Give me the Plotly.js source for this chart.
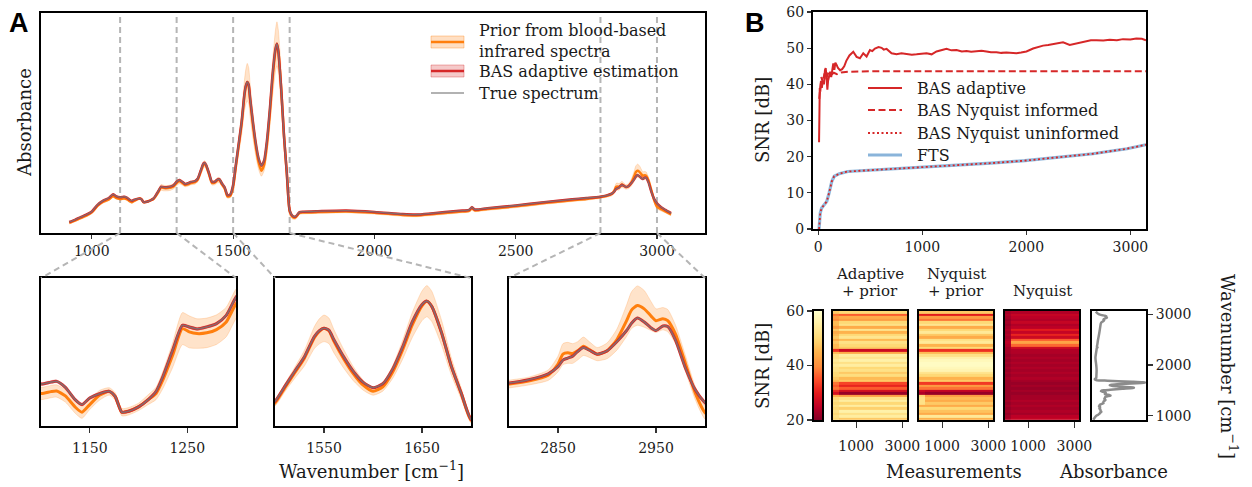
<!DOCTYPE html>
<html><head><meta charset="utf-8">
<script src="https://cdn.plot.ly/plotly-3.0.1.min.js"></script>
<style>html,body{margin:0;padding:0;background:#fff}</style>
</head><body><div id="chart" style="width:1252px;height:487px"></div>
<script>
// ---------------- DATA ----------------
// Panel A: spectrum (wavenumber, cm^-1)
const wn = [920,940,960,980,1000,1020,1040,1060,1075,1085,
1100,1110,1116,1125,1135,1142,1150,1160,1170,1176,
1183,1190,1200,1210,1218,1225,1235,1245,1252,1260,
1270,1280,1290,1300,1310,1320,1330,1340,1350,1365,
1375,1385,1395,1400,1405,1415,1425,1435,1445,1452,
1460,1470,1480,1490,1500,1510,1520,1530,1540,1545,
1550,1555,1560,1570,1580,1590,1600,1610,1620,1630,
1640,1650,1655,1660,1670,1680,1690,1700,1710,1720,
1735,1750,1800,1900,2000,2100,2150,2200,2300,2335,
2345,2355,2400,2500,2600,2700,2750,2800,2820,2840,
2850,2855,2860,2865,2870,2876,2882,2890,2900,2910,
2920,2925,2931,2938,2945,2950,2957,2962,2970,2980,
2990,3000,3015,3030,3050];
const trueAbs = [0.050,0.060,0.072,0.083,0.098,0.128,0.147,0.159,0.176,0.168,
0.1626,0.1642,0.1648,0.160,0.150,0.146,0.1514,0.1548,0.1567,0.1527,
0.1398,0.1406,0.1441,0.150,0.1567,0.1688,0.1902,0.2103,0.209,0.2074,
0.209,0.2117,0.2184,0.2331,0.241,0.233,0.223,0.226,0.232,0.236,
0.248,0.283,0.316,0.319,0.308,0.271,0.233,0.233,0.244,0.244,
0.226,0.208,0.172,0.176,0.219,0.3146,0.4097,0.5048,0.6317,0.6697,
0.6866,0.674,0.6148,0.5048,0.4097,0.3399,0.306,0.3315,0.4245,0.564,
0.7268,0.8388,0.860,0.8262,0.657,0.4414,0.2723,0.1032,0.078,0.074,
0.095,0.097,0.099,0.102,0.096,0.086,0.084,0.089,0.101,0.105,
0.117,0.107,0.113,0.125,0.140,0.153,0.159,0.165,0.170,0.179,
0.190,0.200,0.203,0.206,0.213,0.219,0.215,0.209,0.214,0.228,
0.245,0.256,0.264,0.258,0.249,0.245,0.252,0.251,0.230,0.188,
0.155,0.135,0.117,0.105,0.090];
const priorMean = [0.046,0.056,0.068,0.079,0.094,0.123,0.142,0.153,0.168,0.160,
0.155,0.1565,0.157,0.153,0.144,0.1398,0.146,0.1535,0.1567,0.1527,
0.1398,0.1406,0.1441,0.150,0.155,0.166,0.186,0.2076,0.205,0.2036,
0.2042,0.2068,0.213,0.2277,0.235,0.228,0.218,0.221,0.227,0.231,
0.243,0.277,0.310,0.314,0.303,0.266,0.228,0.229,0.240,0.240,
0.222,0.203,0.166,0.169,0.209,0.305,0.400,0.495,0.625,0.665,
0.686,0.670,0.605,0.492,0.395,0.322,0.283,0.312,0.405,0.545,
0.706,0.830,0.860,0.826,0.657,0.441,0.270,0.100,0.074,0.070,
0.091,0.093,0.095,0.098,0.092,0.082,0.080,0.085,0.097,0.101,
0.113,0.103,0.109,0.121,0.136,0.149,0.155,0.1635,0.168,0.177,
0.194,0.209,0.211,0.210,0.214,0.221,0.216,0.209,0.214,0.231,
0.260,0.276,0.283,0.278,0.267,0.260,0.263,0.260,0.239,0.195,
0.150,0.120,0.108,0.098,0.084];
const priorStd = [0.005,0.005,0.005,0.006,0.006,0.006,0.006,0.006,0.006,0.005,
0.005,0.005,0.005,0.005,0.005,0.005,0.004,0.004,0.003,0.003,
0.003,0.003,0.003,0.004,0.005,0.007,0.010,0.013,0.013,0.012,
0.012,0.012,0.012,0.012,0.011,0.010,0.008,0.008,0.008,0.009,
0.010,0.012,0.014,0.014,0.013,0.012,0.010,0.010,0.012,0.012,
0.010,0.009,0.008,0.008,0.020,0.025,0.035,0.050,0.070,0.080,
0.085,0.082,0.075,0.060,0.045,0.032,0.025,0.028,0.040,0.060,
0.080,0.095,0.100,0.097,0.080,0.055,0.035,0.020,0.010,0.008,
0.007,0.006,0.006,0.006,0.006,0.006,0.006,0.006,0.006,0.006,
0.010,0.006,0.006,0.006,0.006,0.006,0.006,0.006,0.006,0.008,
0.012,0.016,0.016,0.015,0.014,0.014,0.012,0.010,0.012,0.016,
0.024,0.028,0.030,0.028,0.022,0.018,0.017,0.017,0.014,0.012,
0.010,0.010,0.008,0.007,0.006];
const basEstimate = trueAbs;      // BAS adaptive estimate coincides with the true spectrum
const basBand = 0.0012;           // half-width of the (very narrow) BAS credible band
const zoomRanges = [[1100,1300],[1500,1700],[2800,3000]];
const mainTicks = [1000,1500,2000,2500,3000];
const zoomTicks = [[1150,1250],[1550,1650],[2850,2950]];

// Panel B: SNR vs number of measurements
const measAdaptive = [8,12,15,20,28,35,45,55,65,72,80,88,95,105,115,125,137,145,155,165,178,190,210,230,250,270,300,337,369,401,433,465,497,520,545,580,609,630,657,705,753,800,849,900,945,1000,1041,1090,1137,1190,1233,1280,1329,1380,1425,1470,1521,1570,1617,1660,1713,1760,1809,1860,1905,1950,2001,2065,2110,2161,2210,2257,2300,2353,2417,2481,2530,2577,2620,2673,2740,2801,2870,2929,3000,3057,3110,3150];
const snrAdaptive  = [24,30,39,38,41,39,41,40,44,44.5,42,38.5,41,42.7,43.5,42,45.5,45.8,44,46,45.3,44.5,43.9,44.2,45,46.5,48,49,47.6,47.2,48.6,47.7,49.5,49.2,49.9,50.3,50.1,49.6,49.8,48.6,48.3,48.6,48.4,48.2,48.3,48.5,48.6,48.3,49.1,49.5,49.8,49.4,49.5,49.1,49.2,49.0,49.1,49.3,49.1,48.9,48.9,48.7,48.8,48.6,48.6,48.8,49.1,49.9,50.3,50.7,50.9,51.1,51.3,51.6,50.9,51.3,51.8,52.0,52.2,52.2,52.1,52.3,52.2,52.5,52.4,52.7,52.6,52.2];
const measNyqInformed = [10,20,30,45,60,75,95,120,150,180,220,300,500,1000,2000,3150];
const snrNyqInformed  = [36,40,42,40.5,43,41.5,43,42.5,43.2,42.8,43.3,43.5,43.6,43.6,43.6,43.6];
const measFTS = [8,12,20,33,55,82,105,131,154,203,285,415,677,1004,1331,1658,1986,2313,2640,2803,2967,3150];
const snrFTS  = [0,3.5,4.5,5.8,6.7,7.6,10,13.2,14.6,15.3,15.9,16.1,16.6,17.1,17.6,18.2,18.9,19.8,20.8,21.5,22.2,23.3];
const snrNyqUninformed = snrFTS;   // overlaps the FTS curve exactly
const panelBXTicks = [0,1000,2000,3000];

// Panel B heatmaps: SNR [dB] per wavenumber row (row centres, ascending) and measurement bins
const wnRows = [940,990,1040,1090,1140,1190,1240,1290,1340,1390,1440,1490,1540,1590,1640,1690,1740,1790,1840,1890,1940,1990,2040,2090,2140,2190,2240,2290,2340,2390,2440,2490,2540,2590,2640,2690,2740,2790,2840,2890,2940,2990,3040];
const measBins = [0,250,3200];
const adaptiveEarly = [50,52,50,52,50,52,50,52,50,44,28,32,38,36,38,46,48,50,50,52,52,54,52,54,52,52,46,32,46,46,48,44,48,46,44,48,42,46,46,40,42,38,48];
const adaptiveSNR   = [48,55,52,56,49,55,50,55,52,42,22,28,36,31,34,48,46,51,48,52,50,55,52,56,53,55,44,27,48,50,52,46,53,50,45,53,44,52,50,42,44,36,50];
const nyqPriorEarly = [45,54,44,47,50,44,52,52,52,50,24,27,38,42,33,48,45,50,53,57,58,59,59,58,56,52,46,32,50,45,54,52,44,48,54,50,44,53,50,38,42,30,48];
const nyqPriorSNR   = [45,54,44,47,50,44,48,44,46,42,22,26,38,42,33,48,45,50,53,57,58,59,59,58,56,52,46,32,50,45,54,52,44,48,54,50,44,53,50,38,42,30,48];
const nyqEarly      = [24,23,22,23,22,23,22,23,22,22,22,22,22,22,22,22,23,22,23,22,23,22,23,22,23,22,23,23,23,24,25,24,23,24,23,24,23,22,23,22,23,24,23];
const nyqSNR        = [26,25,23,24,23,24,23,24,23,23,22,23,22,23,22,23,24,23,24,23,24,23,24,23,24,23,24,24,27,37,43,36,27,31,26,30,25,24,26,24,25,26,24];
const cbLevels = [20,22,24,26,28,30,32,34,36,38,40,42,44,46,48,50,52,54,56,58,60];
const hmXTicks = [1000,3000];
const wnTicks = [1000,2000,3000];

// ---------------- LAYOUT HELPERS ----------------
const W = 1252, H = 487;
const hx = p => p / W;
const vy = p => 1 - p / H;
const hd = (a, b) => [a / W, b / W];
const vd = (top, bot) => [1 - bot / H, 1 - top / H];
const FONT = 'DejaVu Serif';
const TXT = '#1a1a1a';
const ORANGE = '#ff7f0e', RED = '#d62728', GRAY = 'rgba(120,120,120,0.85)';
const YlOrRd = [[0,'#800026'],[0.125,'#bd0026'],[0.25,'#e31a1c'],[0.375,'#fc4e2a'],[0.5,'#fd8d3c'],[0.625,'#feb24c'],[0.75,'#fed976'],[0.875,'#ffeda0'],[1,'#ffffcc']];

const box = {showline:true, mirror:true, linecolor:'#000', linewidth:2, showgrid:false, zeroline:false,
  ticks:'outside', ticklen:4, tickwidth:1.2, tickcolor:'#333', tickfont:{family:FONT, size:14, color:TXT}};

// geometry (pixels)
const mainBox = {l:41, r:705, t:13, b:233};
const mainRange = [820, 3170];
const subBoxes = [{l:41,r:236},{l:275,r:471},{l:509,r:705}];
const subTop = 278, subBot = 426;
const subYRanges = [[0.1286,0.2487],[0.061,1.008],[0.0996,0.325]];

const traces = [];
function spectrumTraces(xa, ya, wo, wr, wg) {
  const sh = {shape:'spline', smoothing:0.6};
  const lowP = priorMean.map((v,i)=>v-priorStd[i]);
  const upP  = priorMean.map((v,i)=>v+priorStd[i]);
  const lowB = basEstimate.map(v=>v-basBand);
  const upB  = basEstimate.map(v=>v+basBand);
  traces.push({x:wn, y:lowP, xaxis:xa, yaxis:ya, mode:'lines', line:Object.assign({color:'rgba(255,127,14,0.25)', width:0.8}, sh), hoverinfo:'skip'});
  traces.push({x:wn, y:upP, xaxis:xa, yaxis:ya, mode:'lines', fill:'tonexty', fillcolor:'rgba(255,127,14,0.22)', line:Object.assign({color:'rgba(255,127,14,0.25)', width:0.8}, sh), hoverinfo:'skip'});
  traces.push({x:wn, y:lowB, xaxis:xa, yaxis:ya, mode:'lines', line:Object.assign({color:'rgba(214,39,40,0.25)', width:0.5}, sh), hoverinfo:'skip'});
  traces.push({x:wn, y:upB, xaxis:xa, yaxis:ya, mode:'lines', fill:'tonexty', fillcolor:'rgba(214,39,40,0.25)', line:Object.assign({color:'rgba(214,39,40,0.25)', width:0.5}, sh), hoverinfo:'skip'});
  traces.push({x:wn, y:priorMean, xaxis:xa, yaxis:ya, mode:'lines', name:'Prior from blood-based infrared spectra', line:Object.assign({color:ORANGE, width:wo}, sh)});
  traces.push({x:wn, y:basEstimate, xaxis:xa, yaxis:ya, mode:'lines', name:'BAS adaptive estimation', line:Object.assign({color:RED, width:wr}, sh)});
  traces.push({x:wn, y:trueAbs, xaxis:xa, yaxis:ya, mode:'lines', name:'True spectrum', line:Object.assign({color:GRAY, width:wg}, sh)});
}
spectrumTraces('x','y',2.5,2.5,1.3);
spectrumTraces('x2','y2',3,3,1.6);
spectrumTraces('x3','y3',3,3,1.6);
spectrumTraces('x4','y4',3,3,1.6);

// Panel B top
traces.push({x:measFTS, y:snrFTS, xaxis:'x5', yaxis:'y5', mode:'lines', name:'FTS', line:{color:'rgba(125,172,214,0.85)', width:3.2}});
traces.push({x:measFTS, y:snrNyqUninformed, xaxis:'x5', yaxis:'y5', mode:'lines', name:'BAS Nyquist uninformed', line:{color:RED, width:1.8, dash:'2px,2.5px'}});
traces.push({x:measNyqInformed, y:snrNyqInformed, xaxis:'x5', yaxis:'y5', mode:'lines', name:'BAS Nyquist informed', line:{color:RED, width:2, dash:'7px,3.5px'}});
traces.push({x:measAdaptive, y:snrAdaptive, xaxis:'x5', yaxis:'y5', mode:'lines', name:'BAS adaptive', line:{color:RED, width:2}});

// colour bar as its own heat map
traces.push({type:'heatmap', x:[0,1], y:cbLevels, z:cbLevels.map(v=>[v,v]), xaxis:'x6', yaxis:'y6', colorscale:YlOrRd, zmin:20, zmax:60, showscale:false, zsmooth:'best', hoverinfo:'skip'});
// heat maps
const hm = [[adaptiveEarly, adaptiveSNR,'x7','y7'],[nyqPriorEarly, nyqPriorSNR,'x8','y8'],[nyqEarly, nyqSNR,'x9','y9']];
hm.forEach(([e, m, xa, ya]) => {
  traces.push({type:'heatmap', x:measBins, y:wnRows, z:wnRows.map((_,i)=>[e[i], m[i]]), xaxis:xa, yaxis:ya,
    colorscale:YlOrRd, zmin:20, zmax:60, showscale:false, zsmooth:false});
});
// absorbance side panel
traces.push({x:trueAbs, y:wn, xaxis:'x10', yaxis:'y10', mode:'lines', line:{color:'rgba(128,128,128,0.9)', width:2.5, shape:'spline', smoothing:0.6}});

// ---------------- AXES ----------------
const layout = {width:W, height:H, margin:{l:0,r:0,t:0,b:0}, paper_bgcolor:'#fff', plot_bgcolor:'#fff',
  showlegend:false, font:{family:FONT, size:14, color:TXT}, shapes:[], annotations:[]};

layout.xaxis = Object.assign({}, box, {domain:hd(mainBox.l, mainBox.r), range:mainRange, tickvals:mainTicks, anchor:'y'});
layout.yaxis = Object.assign({}, box, {domain:vd(mainBox.t, mainBox.b), range:[0,1], ticks:'', showticklabels:false, anchor:'x'});
subBoxes.forEach((b,i) => {
  const n = i + 2;
  layout['xaxis'+n] = Object.assign({}, box, {domain:hd(b.l,b.r), range:zoomRanges[i], tickvals:zoomTicks[i], ticklen:5, ticklabelstandoff:3, anchor:'y'+n});
  layout['yaxis'+n] = Object.assign({}, box, {domain:vd(subTop, subBot), range:subYRanges[i], ticks:'', showticklabels:false, anchor:'x'+n});
});
layout.xaxis5 = Object.assign({}, box, {domain:hd(813,1146), range:[-50,3150], tickvals:panelBXTicks, anchor:'y5'});
layout.yaxis5 = Object.assign({}, box, {domain:vd(12,229), range:[0,60], dtick:10, anchor:'x5'});
const hmTop = 311, hmBot = 420, wnRange = [915, 3062];
layout.xaxis6 = Object.assign({}, box, {domain:hd(814,822), range:[0,1], ticks:'', showticklabels:false, anchor:'y6'});
layout.yaxis6 = Object.assign({}, box, {domain:vd(hmTop,hmBot), range:[20,60], tickvals:[20,40,60], ticklen:5, anchor:'x6'});
[[7,833,907],[8,919,993],[9,1005,1079]].forEach(([n,l,r]) => {
  layout['xaxis'+n] = Object.assign({}, box, {domain:hd(l,r), range:[0,3200], tickvals:hmXTicks, ticklen:6, ticklabelstandoff:6, anchor:'y'+n});
  layout['yaxis'+n] = Object.assign({}, box, {domain:vd(hmTop,hmBot), range:wnRange, ticks:'', showticklabels:false, anchor:'x'+n});
});
layout.xaxis10 = Object.assign({}, box, {domain:hd(1092,1146), range:[0.03,0.875], ticks:'', showticklabels:false, anchor:'y10'});
layout.yaxis10 = Object.assign({}, box, {domain:vd(hmTop,hmBot), range:wnRange, tickvals:wnTicks, ticklen:5, side:'right', anchor:'x10'});

// ---------------- SHAPES ----------------
const dashGray = {color:'#b5b5b5', width:2, dash:'6px,4px'};
const mainPx = w => mainBox.l + (w - mainRange[0]) / (mainRange[1] - mainRange[0]) * (mainBox.r - mainBox.l);
zoomRanges.forEach((rg, i) => {
  rg.forEach((w, j) => {
    layout.shapes.push({type:'line', xref:'x', yref:'y', x0:w, x1:w, y0:0, y1:1, line:dashGray, layer:'below'});
    const cornerX = j === 0 ? subBoxes[i].l : subBoxes[i].r;
    layout.shapes.push({type:'line', xref:'paper', yref:'paper', x0:hx(mainPx(w)), y0:vy(mainBox.b), x1:hx(cornerX), y1:vy(subTop), line:dashGray});
  });
});

// Panel A legend (patch + line, drawn by hand)
function legRect(x0,x1,yc,h,fill,edge){ layout.shapes.push({type:'rect', xref:'paper', yref:'paper', x0:hx(x0), x1:hx(x1), y0:vy(yc+h/2), y1:vy(yc-h/2), fillcolor:fill, line:{color:edge, width:1}}); }
function legLine(x0,x1,yc,line){ layout.shapes.push({type:'line', xref:'paper', yref:'paper', x0:hx(x0), x1:hx(x1), y0:vy(yc), y1:vy(yc), line:line}); }
function txt(text, x, y, opts){ layout.annotations.push(Object.assign({text:text, xref:'paper', yref:'paper', x:hx(x), y:vy(y), showarrow:false, xanchor:'left', yanchor:'middle', align:'left', font:{family:FONT, size:16, color:TXT}}, opts||{})); }

legRect(431,464,42,12,'rgba(255,127,14,0.25)','rgba(255,127,14,0.35)');
legLine(431,464,42,{color:ORANGE, width:2.5});
txt('Prior from blood-based<br>infrared spectra', 477, 41);
legRect(431,464,71,12,'rgba(214,39,40,0.25)','rgba(214,39,40,0.35)');
legLine(431,464,71,{color:RED, width:2.5});
txt('BAS adaptive estimation', 477, 71);
legLine(431,464,93,{color:'#999', width:1.6});
txt('True spectrum', 477, 93);

// Panel B legend
legLine(868,902,88,{color:RED, width:2});
txt('BAS adaptive', 915, 88);
legLine(868,902,110,{color:RED, width:2, dash:'7px,3.5px'});
txt('BAS Nyquist informed', 915, 110);
legLine(868,902,133,{color:RED, width:2, dash:'2px,2.5px'});
txt('BAS Nyquist uninformed', 915, 133);
legLine(868,902,155,{color:'rgba(125,172,214,0.9)', width:3});
txt('FTS', 915, 155);

// titles / labels
const sans = {family:'Liberation Sans', size:27, color:'#000'};
txt('<b>A</b>', 19, 23, {xanchor:'center', font:sans});
txt('<b>B</b>', 755, 23, {xanchor:'center', font:sans});
txt('Absorbance', 24, 123, {xanchor:'center', textangle:-90, font:{family:FONT, size:18, color:TXT}});
txt('Wavenumber [cm<sup>−1</sup>]', 372, 470, {xanchor:'center', font:{family:FONT, size:18, color:TXT}});
txt('SNR [dB]', 762, 120, {xanchor:'center', textangle:-90, font:{family:FONT, size:18, color:TXT}});
txt('SNR [dB]', 762, 366, {xanchor:'center', textangle:-90, font:{family:FONT, size:18, color:TXT}});
txt('Adaptive', 870, 274, {xanchor:'center', font:{family:FONT, size:15, color:TXT}});
txt('+ prior', 870, 291, {xanchor:'center', font:{family:FONT, size:15, color:TXT}});
txt('Nyquist', 956, 274, {xanchor:'center', font:{family:FONT, size:15, color:TXT}});
txt('+ prior', 956, 291, {xanchor:'center', font:{family:FONT, size:15, color:TXT}});
txt('Nyquist', 1042, 291, {xanchor:'center', font:{family:FONT, size:15, color:TXT}});
txt('Measurements', 954, 471, {xanchor:'center', font:{family:FONT, size:18, color:TXT}});
txt('Absorbance', 1113, 471, {xanchor:'center', font:{family:FONT, size:18, color:TXT}});
txt('Wavenumber [cm<sup>−1</sup>]', 1229, 366, {xanchor:'center', textangle:90, font:{family:FONT, size:18, color:TXT}});

Plotly.newPlot('chart', traces, layout, {displayModeBar:false, staticPlot:true});
</script></body></html>
